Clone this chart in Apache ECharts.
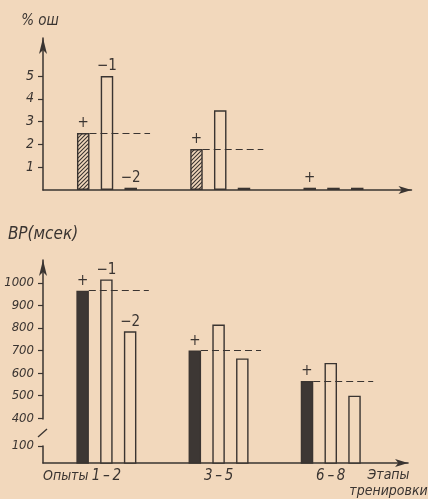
<!DOCTYPE html>
<html><head><meta charset="utf-8">
<script src="https://cdn.jsdelivr.net/npm/echarts@6/dist/echarts.min.js"></script>
<style>html,body{margin:0;padding:0;background:#f2d8bc;} #c{width:428px;height:499px;}</style>
</head><body><div id="c"></div>
<script>
// ---- data ----
const groups = ['1\u2009–\u20092', '3\u2009–\u20095', '6\u2009–\u20098'];
const groupPos = [1, 2, 3];
const errPlus = [2.5, 1.8, 0.1];
const errMinus1 = [5.0, 3.5, 0.1];
const errMinus2 = [0.1, 0.1, 0.1];
const rtPlus = [965, 700, 565];
const rtMinus1 = [1015, 815, 645];
const rtMinus2 = [785, 665, 500];
const errTicks = [1, 2, 3, 4, 5];
const rtTicks = [100, 400, 500, 600, 700, 800, 900, 1000];
const marks = ['+', '−1', '−2'];

// ---- style ----
const INK = '#3a3431';
const BG = '#f2d8bc';
const FONT = "'DejaVu Sans Condensed','DejaVu Sans',sans-serif";

function hatch() {
  const c = document.createElement('canvas'); c.width = 4; c.height = 4;
  const g = c.getContext('2d');
  g.fillStyle = BG; g.fillRect(0, 0, 4, 4);
  g.strokeStyle = INK; g.lineWidth = 1.1;
  g.beginPath();
  g.moveTo(-1, 5); g.lineTo(5, -1);
  g.moveTo(-1, 1); g.lineTo(1, -1);
  g.moveTo(3, 5); g.lineTo(5, 3);
  g.stroke();
  return c;
}

const txt = { color: INK, fontFamily: FONT, fontStyle: 'italic', fontSize: 14 };

// markLine points on a bar series are placed relative to that series' own bar centre
function buildSeries(axisIdx, vals, k, fill, withLine) {
  const lines = [];
  if (withLine) {
    vals.forEach((v, i) => {
      if (v > 1) lines.push([{ coord: [groupPos[i] + 0.055, v] }, { coord: [groupPos[i] + 0.59, v] }]);
    });
  }
  return {
    type: 'bar', xAxisIndex: axisIdx, yAxisIndex: axisIdx,
    barWidth: 12.5, barGap: '90%',
    itemStyle: { color: fill, borderColor: INK, borderWidth: 1.4 },
    label: Object.assign({ position: 'top', distance: 2 }, txt, { fontStyle: 'normal', fontSize: 15 }),
    data: vals.map((v, i) => ({
      value: [groupPos[i], v],
      label: { show: k === 0 || i === 0, formatter: marks[k] }
    })),
    markLine: withLine ? {
      silent: true, symbol: ['none', 'none'], label: { show: false },
      lineStyle: { color: INK, type: [7, 4], width: 1.2 },
      data: lines
    } : undefined
  };
}

const xCommon = {
  type: 'value', min: 0.435, max: 3.689,
  axisLine: { lineStyle: { color: INK, width: 1.5 }, symbol: ['none', 'arrow'], symbolSize: [6, 13] },
  axisTick: { show: false }, splitLine: { show: false }
};

const chart = echarts.init(document.getElementById('c'), null, { renderer: 'canvas' });
chart.setOption({
  backgroundColor: BG,
  animation: false,
  grid: [
    { left: 43, right: 16.5, top: 38, bottom: 309 },
    { left: 43, right: 16.5, top: 260, bottom: 35 }
  ],
  xAxis: [
    Object.assign({ gridIndex: 0, axisLabel: { show: false } }, xCommon),
    Object.assign({
      gridIndex: 1,
      axisLabel: Object.assign({ customValues: groupPos, margin: 6, formatter: v => groups[groupPos.indexOf(v)] || '' }, txt, { fontSize: 15 }),
      name: 'Этапы\nтренировки', nameLocation: 'end', nameGap: -28,
      nameTextStyle: Object.assign({ align: 'center', verticalAlign: 'top', padding: [4, 0, 0, 0], lineHeight: 16 }, txt)
    }, xCommon)
  ],
  yAxis: [
    {
      gridIndex: 0, type: 'value', min: 0, max: 6.67,
      name: '% ош', nameGap: 9,
      nameTextStyle: Object.assign({ padding: [0, 6, 0, 0] }, txt, { fontSize: 15 }),
      axisLine: { show: true, lineStyle: { color: INK, width: 1.5 }, symbol: ['none', 'arrow'], symbolSize: [6, 16] },
      axisTick: { show: true, customValues: errTicks, length: 5, lineStyle: { color: INK, width: 1.2 } },
      axisLabel: Object.assign({ customValues: errTicks, margin: 9, formatter: v => String(v) }, txt),
      splitLine: { show: false }
    },
    {
      gridIndex: 1, type: 'value', min: 25, max: 1101,
      breaks: [{ start: 100, end: 400, gap: 123 }],
      breakArea: { show: false },
      name: 'ВР(мсек)', nameGap: 17,
      nameTextStyle: Object.assign({}, txt, { fontSize: 17 }),
      axisLine: { show: true, lineStyle: { color: INK, width: 1.5 }, symbol: ['none', 'arrow'], symbolSize: [6, 16] },
      axisTick: { show: true, customValues: rtTicks, length: 5, lineStyle: { color: INK, width: 1.2 } },
      axisLabel: Object.assign({ customValues: rtTicks, margin: 9, formatter: v => String(v) }, txt, { fontSize: 13 }),
      splitLine: { show: false }
    }
  ],
  graphic: [
    { type: 'text', left: 43, top: 469, style: { text: 'Опыты', fill: INK, font: 'italic 14px ' + FONT } },
    { type: 'line', shape: { x1: 38, y1: 437, x2: 47, y2: 429 }, style: { stroke: INK, lineWidth: 1.4 } }
  ],
  series: [
    buildSeries(0, errPlus, 0, { image: hatch(), repeat: 'repeat' }, true),
    buildSeries(0, errMinus1, 1, BG, false),
    buildSeries(0, errMinus2, 2, BG, false),
    buildSeries(1, rtPlus, 0, '#3d3734', true),
    buildSeries(1, rtMinus1, 1, BG, false),
    buildSeries(1, rtMinus2, 2, BG, false)
  ]
});
</script>
</body></html>
